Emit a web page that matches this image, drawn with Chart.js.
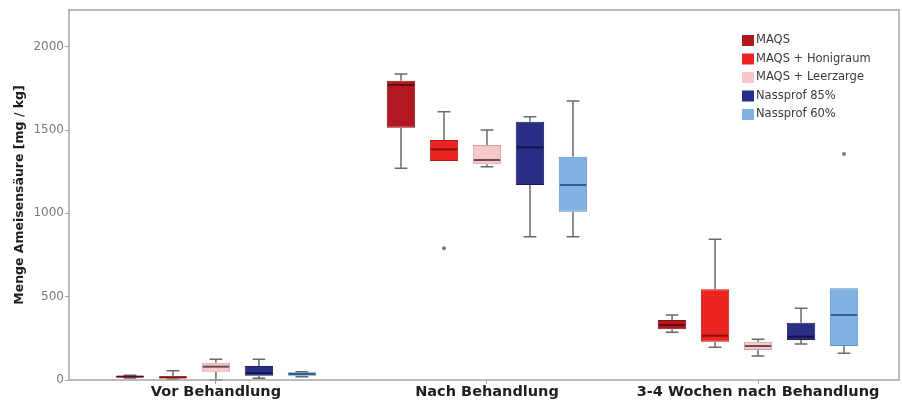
<!DOCTYPE html>
<html>
<head>
<meta charset="utf-8">
<script src="https://cdn.jsdelivr.net/npm/chart.js@4/dist/chart.umd.min.js"></script>
<style>
  html, body { margin: 0; padding: 0; background: #fff; }
  #wrap { width: 902px; height: 401px; }
</style>
</head>
<body>
<div id="wrap"><canvas id="box-chart"></canvas></div>
<script>
// Behandlungszeitpunkte (x axis)
const groups = ["Vor Behandlung", "Nach Behandlung", "3-4 Wochen nach Behandlung"];
const seriesNames = ["MAQS", "MAQS + Honigraum", "MAQS + Leerzarge", "Nassprof 85%", "Nassprof 60%"];

// [min, q1, median, q3, max] per group
const maqs      = [[12, 16, 20, 25, 28], [1270, 1514, 1770, 1796, 1836], [286, 304, 330, 360, 390]];
const honigraum = [[5, 10, 16, 22, 55], [1314, 1314, 1384, 1440, 1610], [196, 230, 266, 544, 845]];
const leerzarge = [[0, 50, 80, 104, 124], [1280, 1294, 1320, 1410, 1500], [144, 180, 204, 230, 244]];
const nass85    = [[10, 26, 40, 84, 124], [860, 1170, 1396, 1550, 1580], [216, 240, 260, 344, 430]];
const nass60    = [[20, 26, 36, 46, 50], [860, 1010, 1170, 1340, 1674], [160, 204, 390, 550, 550]];

// single outliers: [series index, group index, value]
const outliers = [[1, 1, 790], [4, 2, 1356]];

const yTicks = [0, 500, 1000, 1500, 2000];

const stats = [maqs, honigraum, leerzarge, nass85, nass60];
const fills   = ["#b1181f", "#ea2420", "#f6c8c9", "#2a2f85", "#80b2e1"];
const borders = ["#86121a", "#b81813", "#caa0a2", "#1c1f5e", "#5e90c2"];
const medians = ["#650a0e", "#8a0f0c", "#6a4c4d", "#12144a", "#2f5f95"];

const FONT = "'DejaVu Sans', Verdana, sans-serif";

const boxPlugin = {
  id: "boxExtras",
  afterDatasetsDraw(chart) {
    const ctx = chart.ctx;
    const y = chart.scales.y;
    const area = chart.chartArea;
    ctx.save();
    ctx.beginPath();
    ctx.rect(area.left, area.top - 2, area.right - area.left, area.bottom - area.top + 6);
    ctx.clip();
    stats.forEach((s, di) => {
      const meta = chart.getDatasetMeta(di);
      meta.data.forEach((bar, gi) => {
        const [mn, q1, md, q3, mx] = s[gi];
        const half = bar.width / 2;
        const cap = half * 0.45;
        ctx.strokeStyle = "#6a6a6a";
        ctx.lineWidth = 1.5;
        ctx.beginPath();
        if (mx > q3) {
          ctx.moveTo(bar.x, y.getPixelForValue(q3));
          ctx.lineTo(bar.x, y.getPixelForValue(mx));
          ctx.moveTo(bar.x - cap, y.getPixelForValue(mx));
          ctx.lineTo(bar.x + cap, y.getPixelForValue(mx));
        }
        if (mn < q1) {
          ctx.moveTo(bar.x, y.getPixelForValue(q1));
          ctx.lineTo(bar.x, y.getPixelForValue(mn));
          ctx.moveTo(bar.x - cap, y.getPixelForValue(mn));
          ctx.lineTo(bar.x + cap, y.getPixelForValue(mn));
        }
        ctx.stroke();
        ctx.strokeStyle = medians[di];
        ctx.lineWidth = 2;
        ctx.beginPath();
        ctx.moveTo(bar.x - half + 1, y.getPixelForValue(md));
        ctx.lineTo(bar.x + half - 1, y.getPixelForValue(md));
        ctx.stroke();
      });
    });
    outliers.forEach(([di, gi, v]) => {
      const bar = chart.getDatasetMeta(di).data[gi];
      ctx.fillStyle = "#7a7a7a";
      ctx.beginPath();
      ctx.arc(bar.x, y.getPixelForValue(v), 2, 0, Math.PI * 2);
      ctx.fill();
    });
    ctx.restore();

    // frame
    ctx.save();
    ctx.strokeStyle = "#a4a4a4";
    ctx.lineWidth = 1.5;
    ctx.strokeRect(area.left, area.top, area.right - area.left, area.bottom - area.top);
    ctx.restore();

    // legend inside plot, top right
    ctx.save();
    ctx.font = "11.5px " + FONT;
    ctx.textBaseline = "middle";
    seriesNames.forEach((name, i) => {
      const ly = 40 + i * 18.5;
      ctx.fillStyle = fills[i];
      ctx.fillRect(742, ly - 5, 12, 11);
      ctx.fillStyle = "#3a3a3a";
      ctx.fillText(name, 756, ly + 0.5);
    });
    ctx.restore();
  },
};

const chart = new Chart(document.getElementById("box-chart"), {
  type: "bar",
  data: {
    datasets: stats.map((s, i) => ({
      label: seriesNames[i],
      data: s.map((v, gi) => ({ x: gi, y: [v[1], v[3]] })),
      backgroundColor: fills[i],
      borderColor: borders[i],
      borderWidth: 1,
      borderSkipped: false,
    })),
  },
  options: {
    responsive: true,
    maintainAspectRatio: false,
    animation: false,
    categoryPercentage: 0.793,
    barPercentage: 0.66,
    layout: { padding: { top: 10, right: 3, left: 0, bottom: 0 } },
    plugins: {
      legend: { display: false },
      tooltip: { enabled: false },
    },
    scales: {
      x: {
        type: "linear",
        min: -0.542,
        max: 2.52,
        offset: false,
        afterFit(scale) { scale.height = 21; },
        border: { display: false },
        grid: { offset: false, drawOnChartArea: false, drawTicks: true, tickLength: 4, color: "#a4a4a4" },
        afterBuildTicks(scale) { scale.ticks = groups.map((g, i) => ({ value: i })); },
        ticks: {
          autoSkip: false,
          maxRotation: 0,
          padding: 0,
          color: "#1e1e1e",
          font: { family: FONT, size: 14.5, weight: "bold", lineHeight: 1.1 },
          callback: (v) => groups[v] ?? "",
        },
      },
      y: {
        min: 0,
        max: 2220,
        afterFit(scale) { scale.width = 69; },
        border: { display: false },
        grid: { drawOnChartArea: false, drawTicks: true, tickLength: 4, color: "#a4a4a4" },
        afterBuildTicks(scale) { scale.ticks = yTicks.map((v) => ({ value: v })); },
        ticks: {
          padding: 1,
          color: "#7a7a7a",
          font: { family: FONT, size: 12 },
          callback: (v) => String(v),
        },
        title: {
          display: true,
          text: "Menge Ameisensäure [mg / kg]",
          color: "#1e1e1e",
          padding: { top: 12, bottom: 0 },
          font: { family: FONT, size: 12.5, weight: "bold" },
        },
      },
    },
  },
  plugins: [boxPlugin],
});
</script>
</body>
</html>
